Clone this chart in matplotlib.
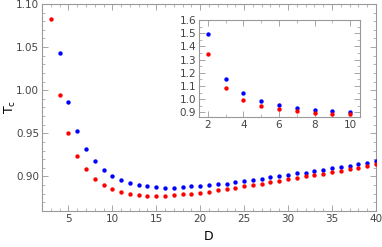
import matplotlib
matplotlib.use("Agg")
import matplotlib.pyplot as plt
import numpy as np
from matplotlib.ticker import MultipleLocator

# D values and critical temperature for the two cases
D = list(range(2, 41))
tc_blue = [1.491, 1.153, 1.043, 0.986, 0.953, 0.932, 0.918, 0.908, 0.901,
           0.8962, 0.8927, 0.8903, 0.8887, 0.8876, 0.8868, 0.8868, 0.8876,
           0.8884, 0.8892, 0.8897, 0.8907, 0.8915, 0.8930, 0.8942, 0.8957,
           0.8969, 0.8990, 0.9000, 0.9016, 0.9035, 0.9045, 0.9062, 0.9078,
           0.9097, 0.9108, 0.9124, 0.9144, 0.9160, 0.9183]
tc_red = [1.340, 1.083, 0.994, 0.950, 0.924, 0.9085, 0.8973, 0.8905, 0.8851,
          0.8818, 0.8799, 0.8783, 0.8777, 0.8777, 0.8777, 0.8785, 0.8791,
          0.8799, 0.8808, 0.8822, 0.8837, 0.8853, 0.8864, 0.8884, 0.8899,
          0.8911, 0.8930, 0.8950, 0.8965, 0.8984, 0.9000, 0.9016, 0.9031,
          0.9050, 0.9062, 0.9081, 0.9101, 0.9116, 0.9140]
n_inset = 9  # D = 2..10 in the inset

frame_col = "#999999"
lab_col = "#444444"

def style(ax):
    for s in ax.spines.values():
        s.set_color(frame_col)
        s.set_linewidth(0.8)
    ax.tick_params(which="both", direction="in", top=True, right=True,
                   colors=frame_col, labelcolor=lab_col, labelsize=7.5, pad=2)
    ax.tick_params(which="major", length=4, width=0.6)
    ax.tick_params(which="minor", length=2, width=0.5)

fig = plt.figure(figsize=(3.82, 2.47), dpi=100)
ax = fig.add_axes([0.110, 0.146, 0.874, 0.838])
ax.scatter(D, tc_blue, s=10, color="#0000ff", linewidths=0, zorder=3)
ax.scatter(D, tc_red, s=10, color="#ff0000", linewidths=0, zorder=3)
ax.set_xlim(2, 40)
ax.set_ylim(0.86, 1.10)
ax.xaxis.set_major_locator(MultipleLocator(5))
ax.xaxis.set_minor_locator(MultipleLocator(1))
ax.yaxis.set_major_locator(MultipleLocator(0.05))
ax.yaxis.set_minor_locator(MultipleLocator(0.01))
ax.yaxis.set_major_formatter(lambda v, p: "%.2f" % v)
style(ax)
fig.text(0.545, 0.018, "D", fontsize=9, ha="center", va="bottom")
fig.text(0.028, 0.565, r"T$_\mathrm{c}$", fontsize=9, rotation=90,
         ha="center", va="center")

ins = fig.add_axes([0.521, 0.525, 0.421, 0.394])
ins.scatter(D[:n_inset], tc_blue[:n_inset], s=10, color="#0000ff", linewidths=0, zorder=3)
ins.scatter(D[:n_inset], tc_red[:n_inset], s=10, color="#ff0000", linewidths=0, zorder=3)
ins.set_xlim(1.5, 10.55)
ins.set_ylim(0.862, 1.6)
ins.xaxis.set_major_locator(MultipleLocator(2))
ins.xaxis.set_minor_locator(MultipleLocator(1))
ins.yaxis.set_major_locator(MultipleLocator(0.1))
ins.yaxis.set_minor_locator(MultipleLocator(0.05))
ins.yaxis.set_major_formatter(lambda v, p: "%.1f" % v)
style(ins)

fig.savefig("out.png", dpi=100)
